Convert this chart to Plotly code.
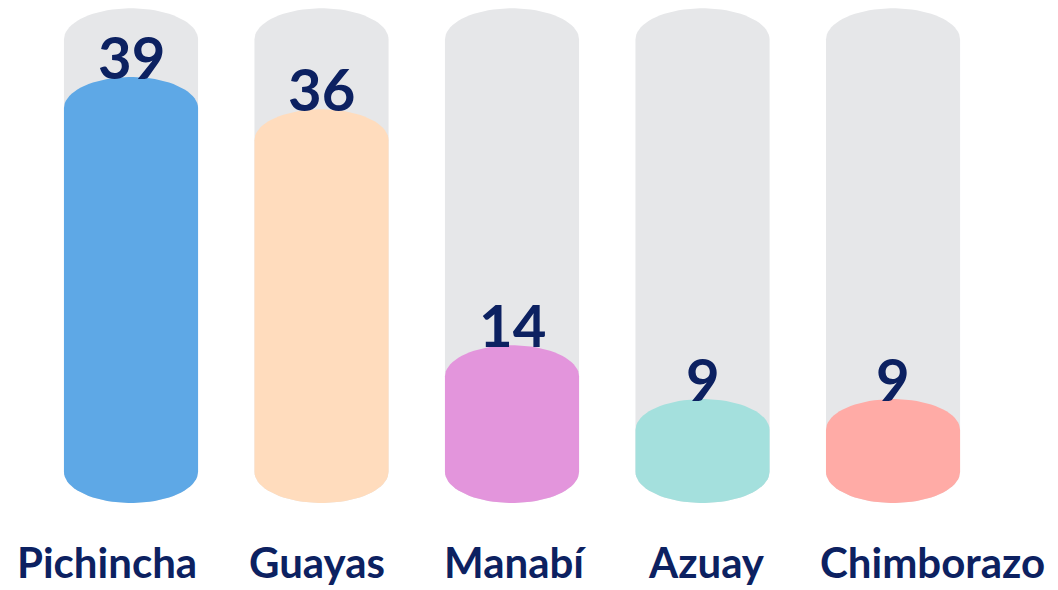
import numpy as np
import plotly.graph_objects as go

# Datos
provincias = ['Pichincha', 'Guayas', 'Manabí', 'Azuay', 'Chimborazo']
valores = [39, 36, 14, 9, 9]
colores = ['#5EA8E6', '#FFDCBD', '#E395DC', '#A4E0DD', '#FFABA6']
fondo_max = 45.4  # altura del "tubo" gris

azul = '#0C2161'
gris = '#E6E7E9'
ancho = 0.352   # medio ancho de cada cápsula
tapa = 2.9      # alto de las tapas elípticas
base = -0.7     # las cápsulas arrancan un poco bajo el cero


def capsula(xc, y0, y1):
    # contorno de una cápsula con tapas elípticas
    t_sup = np.linspace(np.pi, 0, 40)
    t_inf = np.linspace(0, -np.pi, 40)
    xs = list(xc + ancho * np.cos(t_sup)) + list(xc + ancho * np.cos(t_inf))
    ys = list(y1 - tapa + tapa * np.sin(t_sup)) + list(y0 + tapa + tapa * np.sin(t_inf))
    return xs + [xs[0]], ys + [ys[0]]


fig = go.Figure()

for i, (prov, val, col) in enumerate(zip(provincias, valores, colores)):
    xs, ys = capsula(i, base, fondo_max)
    fig.add_trace(go.Scatter(x=xs, y=ys, fill='toself', fillcolor=gris,
                             mode='lines', line=dict(width=0), hoverinfo='skip'))
    xs, ys = capsula(i, base, val)
    fig.add_trace(go.Scatter(x=xs, y=ys, fill='toself', fillcolor=col,
                             mode='lines', line=dict(width=0), name=prov))
    # valor encima de la barra
    fig.add_annotation(x=i, y=val, text=str(val), showarrow=False,
                       yanchor='bottom', yshift=-16,
                       font=dict(family='Lato', size=58, color=azul, weight='bold'))

# etiquetas de provincia
desplaz = [-24, -5, 3, 4, 39]
for i, prov in enumerate(provincias):
    fig.add_annotation(x=i, y=base, text=prov, showarrow=False,
                       yanchor='top', yshift=-32, xshift=desplaz[i],
                       font=dict(family='Lato', size=42, color=azul, weight='bold'))

fig.update_layout(
    width=1050, height=582,
    margin=dict(l=0, r=0, t=0, b=0),
    plot_bgcolor='white',
    paper_bgcolor='white',
    showlegend=False,
    xaxis=dict(range=[-0.6457, 4.866], visible=False, fixedrange=True),
    yaxis=dict(range=[-8.81, 45.43], visible=False, fixedrange=True),
)

fig.write_html('out.html')
